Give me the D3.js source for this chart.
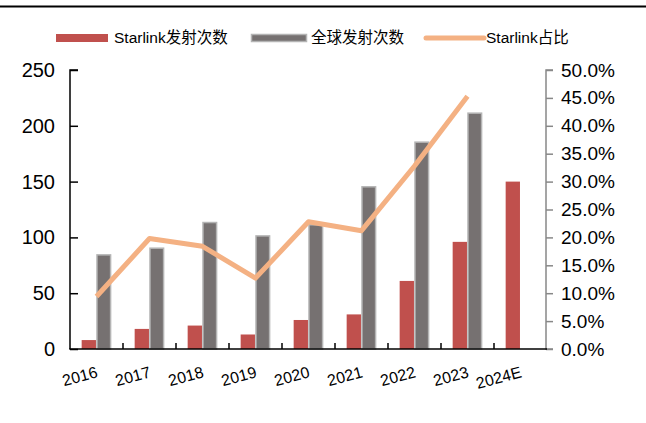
<!DOCTYPE html>
<html>
<head>
<meta charset="utf-8">
<script src="https://cdn.jsdelivr.net/npm/d3@7"></script>
<style>
  html, body { margin: 0; padding: 0; background: #fff; }
  svg { display: block; font-family: Arial, "Liberation Sans", "Noto Sans CJK SC", sans-serif; }
</style>
</head>
<body>
<svg id="chart" width="646" height="423"></svg>
<script>
const categories = ["2016", "2017", "2018", "2019", "2020", "2021", "2022", "2023", "2024E"];
const starlinkLaunches = [8, 18, 21, 13, 26, 31, 61, 96, 150];
const globalLaunches = [85, 91, 114, 102, 112, 146, 186, 212, null];
const starlinkShare = [9.4, 19.8, 18.4, 12.7, 22.8, 21.2, 32.8, 45.3, null];
const leftTicks = [0, 50, 100, 150, 200, 250];
const rightTicks = [0, 5, 10, 15, 20, 25, 30, 35, 40, 45, 50];
const legendLabels = ["Starlink发射次数", "全球发射次数", "Starlink占比"];

const colors = { red: "#C0504D", grey: "#767171", greyStroke: "#b4b4b4", line: "#F4B183" };

const svg = d3.select("#chart");
const pLeft = 70, pRight = 547, pTop = 70, pBottom = 349;

// top rule
svg.append("line").attr("x1", 0).attr("x2", 646).attr("y1", 6.5).attr("y2", 6.5)
  .attr("stroke", "#000").attr("stroke-width", 2);

const x = d3.scaleBand().domain(categories).range([pLeft, pRight]).paddingInner(0).paddingOuter(0);
const y = d3.scaleLinear().domain([0, 250]).range([pBottom, pTop]);
const y2 = d3.scaleLinear().domain([0, 50]).range([pBottom, pTop]);
const bw = x.bandwidth();

// bars
svg.append("g").selectAll("rect").data(categories).join("rect")
  .attr("x", d => x(d) + 0.22 * bw)
  .attr("width", 0.27 * bw)
  .attr("y", (d, i) => y(starlinkLaunches[i]))
  .attr("height", (d, i) => pBottom - y(starlinkLaunches[i]))
  .attr("fill", colors.red);

svg.append("g").selectAll("rect").data(categories.filter((d, i) => globalLaunches[i] != null)).join("rect")
  .attr("x", d => x(d) + 0.495 * bw + 0.75)
  .attr("width", 0.285 * bw - 1.5)
  .attr("y", (d, i) => y(globalLaunches[i]) + 0.75)
  .attr("height", (d, i) => pBottom - y(globalLaunches[i]) - 0.75)
  .attr("fill", colors.grey)
  .attr("stroke", colors.greyStroke)
  .attr("stroke-width", 1.5);

// line
const lineData = categories.map((c, i) => [c, starlinkShare[i]]).filter(d => d[1] != null);
svg.append("path")
  .datum(lineData)
  .attr("fill", "none")
  .attr("stroke", colors.line)
  .attr("stroke-width", 5)
  .attr("stroke-linejoin", "round")
  .attr("d", d3.line().x(d => x(d[0]) + bw / 2).y(d => y2(d[1])));

// left axis
const gl = svg.append("g").attr("transform", `translate(${pLeft},0)`)
  .call(d3.axisRight(y).tickValues(leftTicks).tickSize(8).tickFormat(d3.format("d")));
gl.select(".domain").attr("stroke", "#000").attr("stroke-width", 1.5).attr("d", `M8,${pTop}H0V${pBottom}`);
gl.selectAll(".tick line").attr("stroke", "#000").attr("stroke-width", 1.5);
gl.selectAll(".tick text").attr("x", -15).attr("text-anchor", "end")
  .attr("font-size", 20).attr("fill", "#000").attr("font-family", "Arial, 'Liberation Sans', sans-serif");

// right axis
const gr = svg.append("g").attr("transform", `translate(${pRight - 1},0)`)
  .call(d3.axisRight(y2).tickValues(rightTicks).tickSize(7).tickFormat(d => d3.format(".1f")(d) + "%"));
gr.select(".domain").attr("stroke", "#888").attr("stroke-width", 1.5).attr("d", `M7,${pTop}H0V${pBottom}H7`);
gr.selectAll(".tick line").attr("stroke", "#888").attr("stroke-width", 1.5);
gr.selectAll(".tick text").attr("x", 15).attr("text-anchor", "start")
  .attr("font-size", 19).attr("fill", "#000").attr("font-family", "Arial, 'Liberation Sans', sans-serif");

// bottom axis
const gb = svg.append("g").attr("transform", `translate(0,${pBottom})`);
gb.append("line").attr("x1", pLeft - 0.75).attr("x2", pRight).attr("y1", 0).attr("y2", 0)
  .attr("stroke", "#000").attr("stroke-width", 1.5);
gb.selectAll("line.tk").data(categories.slice(1)).join("line").attr("class", "tk")
  .attr("x1", d => x(d)).attr("x2", d => x(d)).attr("y1", 0).attr("y2", -6)
  .attr("stroke", "#000").attr("stroke-width", 1.5);
gb.selectAll("text").data(categories).join("text")
  .attr("transform", d => `translate(${x(d) + bw / 2 + 2},${28}) rotate(-15)`)
  .attr("text-anchor", "end")
  .attr("font-size", 16)
  .attr("fill", "#000")
  .text(d => d);

// legend
const lg = svg.append("g");
lg.append("rect").attr("x", 56).attr("y", 34).attr("width", 52).attr("height", 8).attr("fill", colors.red);
lg.append("text").attr("x", 114).attr("y", 38).attr("dy", "0.35em").attr("font-size", 15.5).text(legendLabels[0]);
lg.append("rect").attr("x", 251.5).attr("y", 34.5).attr("width", 55).attr("height", 7).attr("fill", colors.grey)
  .attr("stroke", colors.greyStroke).attr("stroke-width", 1.5);
lg.append("text").attr("x", 311).attr("y", 38).attr("dy", "0.35em").attr("font-size", 15.5).text(legendLabels[1]);
lg.append("line").attr("x1", 426).attr("x2", 484).attr("y1", 38).attr("y2", 38)
  .attr("stroke", colors.line).attr("stroke-width", 5).attr("stroke-linecap", "round");
lg.append("text").attr("x", 486).attr("y", 38).attr("dy", "0.35em").attr("font-size", 15.5).text(legendLabels[2]);
</script>
</body>
</html>
